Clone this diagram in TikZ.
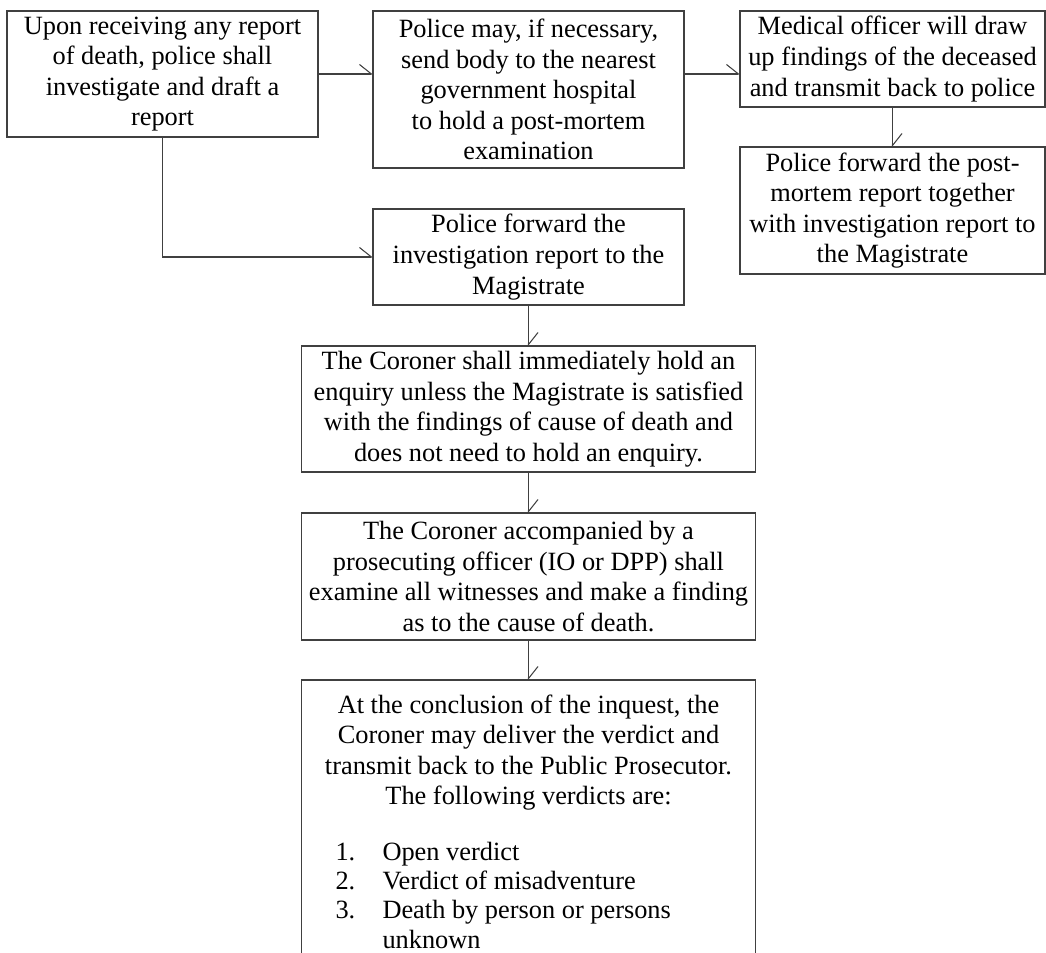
\documentclass[tikz,border=0pt]{standalone}
\usepackage{fontspec}
\setmainfont{Liberation Serif}
\usetikzlibrary{arrows.meta,positioning}
\tikzset{
	stage/.style={draw,rectangle,align=center,outer sep=0pt,inner sep=1pt,
		font=\fontsize{15}{17.4}\selectfont},
	flow/.style={-{Straight Barb[left,length=0.24cm,width=0.38cm]}}
}
\newcommand{\verdictline}[2]{\makebox[8.9cm][l]{\hspace{0.59cm}\makebox[0.94cm][l]{#1}#2}}

\begin{document}
\begin{tikzpicture}[line width=0.6pt,draw=black!75,node distance=0.82 and 1.1]
  \useasboundingbox (0,0) rectangle (20.92,-19.04);
  \clip (0,0) rectangle (20.92,-19.04);
  \node [stage, minimum width=6.22cm, minimum height=2.52cm, anchor=north west] (Rep) at (0.14,-0.22) {Upon receiving any report\\of death, police shall\\investigate and draft a\\report};
  \node [stage, minimum width=6.22cm, minimum height=3.14cm, right=1.1 of Rep.north east, anchor=north west] (Hosp) {Police may, if necessary,\\send body to the nearest\\government hospital\\to hold a post-mortem\\examination};
  \node [stage, minimum width=6.1cm, minimum height=1.92cm, right=1.12 of Hosp.north east, anchor=north west] (Med) {Medical officer will draw\\up findings of the deceased\\and transmit back to police};
  \node [stage, minimum width=6.1cm, minimum height=2.54cm, below=0.8 of Med] (FwdPM) {Police forward the post-\\mortem report together\\with investigation report to\\the Magistrate};
  \node [stage, minimum width=6.22cm, minimum height=1.92cm, below=0.82 of Hosp] (Fwd) {Police forward the\\investigation report to the\\Magistrate};
  \node [stage, minimum width=9.08cm, minimum height=2.52cm, below=0.82 of Fwd] (Enq) {The Coroner shall immediately hold an\\enquiry unless the Magistrate is satisfied\\with the findings of cause of death and\\does not need to hold an enquiry.};
  \node [stage, minimum width=9.08cm, minimum height=2.54cm, below=0.82 of Enq] (Exam) {The Coroner accompanied by a\\prosecuting officer (IO or DPP) shall\\examine all witnesses and make a finding\\as to the cause of death.};
  \node [stage, minimum width=9.08cm, minimum height=5.66cm, below=0.8 of Exam] (Verd) {At the conclusion of the inquest, the\\Coroner may deliver the verdict and\\transmit back to the Public Prosecutor.\\The following verdicts are:\\[14pt]
    \verdictline{1.}{Open verdict}\\[-0.7pt]
    \verdictline{2.}{Verdict of misadventure}\\[-0.7pt]
    \verdictline{3.}{Death by person or persons}\\[-0.7pt]
    \verdictline{}{unknown}};
  \draw [flow] (Rep.east) -- (Rep.east -| Hosp.west);
  \draw [flow] (Rep.east -| Hosp.east) -- (Rep.east -| Med.west);
  \draw [flow] (Rep.south) |- (Fwd.west);
  \draw [flow] (Med) -- (FwdPM);
  \draw [flow] (Fwd) -- (Enq);
  \draw [flow] (Enq) -- (Exam);
  \draw [flow] (Exam) -- (Verd);
\end{tikzpicture}
\end{document}
